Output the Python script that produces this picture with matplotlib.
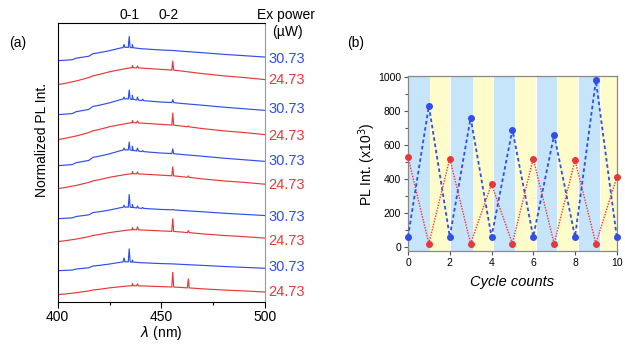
import numpy as np
import matplotlib.pyplot as plt

plt.rcParams['font.family'] = ['Liberation Sans', 'DejaVu Sans']

BLUE = '#2f4fe8'
RED = '#e8383a'

# (a) spectra: normalized broad-band shapes
wl = [400, 404, 407, 409, 412, 415, 417, 420, 425, 430, 433, 436, 440, 445, 450, 455, 460, 470, 480, 490, 500]
shape_blue = [0, .04, .07, .19, .26, .33, .52, .59, .74, .93, 1.0, .96, .89, .84, .79, .76, .70, .59, .47, .37, .27]
shape_red = [0, .09, .17, .22, .32, .42, .52, .6, .76, .88, .95, 1.0, .98, .94, .9, .86, .8, .65, .52, .42, .3]

# bottom-to-top order
colors = ['red', 'blue'] * 5
levels = [7, 31, 60, 83, 113, 136, 162, 187, 217, 241]
amps = [9, 9, 12, 11.7, 15, 16, 17, 16, 17, 13.5]
labels = ['24.73', '30.73'] * 5
label_y = [10, 35, 61, 85, 117, 141, 166, 193, 222, 243]

# sharp lines per trace: (wavelength, height)
peaks = [
    [(436, 2), (438.5, 2), (455.5, 14.7), (463, 9)],
    [(432, 4), (434.5, 13), (436, 2)],
    [(436, 2), (438.5, 3), (455.5, 12.7), (463, 2)],
    [(432, 2), (434.5, 12.7), (436, 3), (438.5, 2), (441, 1), (455.5, 0.5)],
    [(436, 2), (438.5, 2), (455.5, 9), (463, 1.5)],
    [(432, 2), (434.5, 8), (436, 4), (438.5, 3), (441, 1), (455.5, 4.7)],
    [(436, 2), (438.5, 2), (455.5, 12), (463, 1)],
    [(432, 2), (434.5, 9), (436, 4), (438.5, 3), (441, 1.5), (455.5, 3)],
    [(436, 2), (438.5, 2), (455.5, 9)],
    [(432, 3), (434.5, 11), (436, 3)],
]

# (b) cycling
cycles = np.arange(0, 11)
pl_blue = [60, 830, 60, 760, 60, 690, 60, 660, 60, 980, 60]
pl_red = [530, 20, 520, 20, 370, 20, 520, 20, 510, 20, 410]
blue_spans = [(0, 1.04), (2.05, 3.09), (4.1, 5.12), (6.16, 7.15), (8.19, 9.2)]
yellow_spans = [(1.07, 2.02), (3.12, 4.05), (5.17, 6.11), (7.2, 8.16), (9.25, 10)]

fig = plt.figure(figsize=(6.25, 3.45), dpi=100)

# ---- panel (a)
ax = fig.add_axes([0.0923, 0.1255, 0.3317, 0.807])
for i in range(10):
    shape = shape_blue if colors[i] == 'blue' else shape_red
    yb = [levels[i] + amps[i] * s for s in shape]
    x = list(wl)
    y = list(yb)
    for p, h in peaks[i]:
        base = np.interp(p, wl, yb)
        x += [p - 0.45, p, p + 0.45]
        y += [base, base + h, base]
    order = np.argsort(x, kind='stable')
    c = BLUE if colors[i] == 'blue' else RED
    ax.plot(np.array(x)[order], np.array(y)[order], color=c, lw=0.85)
    ax.text(1.015, label_y[i], labels[i], transform=ax.get_yaxis_transform(), color=c,
            fontsize=10.5, va='center', ha='left')

ax.set_xlim(400, 500)
ax.set_ylim(0, 278.4)
ax.set_yticks([])
ax.set_xticks([400, 450, 500])
ax.set_xticks([425, 475], minor=True)
ax.tick_params(axis='x', labelsize=10, direction='out', length=4, width=0.8, pad=2)
ax.tick_params(axis='x', which='minor', length=2.5, width=0.8)
ax.spines['right'].set_color('#999999')
for s in ['left', 'top', 'bottom']:
    ax.spines[s].set_linewidth(0.8)
fig.text(161 / 625, 1 - 333 / 345, r'$\lambda$ (nm)', ha='center', va='center', fontsize=10)
ax.text(434.5, 1.029, '0-1', transform=ax.get_xaxis_transform(), ha='center', va='center', fontsize=10)
ax.text(453.5, 1.029, '0-2', transform=ax.get_xaxis_transform(), ha='center', va='center', fontsize=10)
fig.text(286 / 625, 1 - 15 / 345, 'Ex power', ha='center', va='center', fontsize=10)
fig.text(287 / 625, 1 - 32 / 345, '(\u00b5W)', ha='center', va='center', fontsize=10)
fig.text(42 / 625, 1 - 140 / 345, 'Normalized PL Int.', rotation=90, ha='center', va='center', fontsize=10)
fig.text(18 / 625, 1 - 43 / 345, '(a)', ha='center', va='center', fontsize=10)

# ---- panel (b)
bx = fig.add_axes([0.6528, 0.2733, 0.334, 0.505])
for a, b in blue_spans:
    bx.axvspan(a, b, color='#c6e5fb', lw=0, zorder=0)
for a, b in yellow_spans:
    bx.axvspan(a, b, color='#fefcca', lw=0, zorder=0)
bx.plot(cycles, pl_blue, color=BLUE, ls=(0, (2, 1.5)), lw=1.3, marker='o', ms=4, clip_on=False, zorder=3)
bx.plot(cycles, pl_red, color=RED, ls=(0, (1, 1)), lw=1.0, marker='o', ms=4, clip_on=False, zorder=3)
bx.set_xlim(0, 10)
bx.set_ylim(-22, 1003)
bx.set_xticks(range(0, 11, 2))
bx.set_yticks(range(0, 1001, 200))
bx.set_yticks(range(100, 1000, 200), minor=True)
bx.tick_params(labelsize=7.5, direction='out', length=3, width=0.8, color='#555555', pad=2)
bx.tick_params(which='minor', length=2, width=0.8, color='#555555')
for s in bx.spines.values():
    s.set_color('#888888')
    s.set_linewidth(0.9)
fig.text(367 / 625, 1 - 164 / 345, 'PL Int. (x10$^3$)', rotation=90, ha='center', va='center', fontsize=10)
fig.text(512 / 625, 1 - 282 / 345, 'Cycle counts', ha='center', va='center', fontsize=10.5, style='italic')
fig.text(356 / 625, 1 - 43 / 345, '(b)', ha='center', va='center', fontsize=10)

fig.savefig('out.png', dpi=100)
